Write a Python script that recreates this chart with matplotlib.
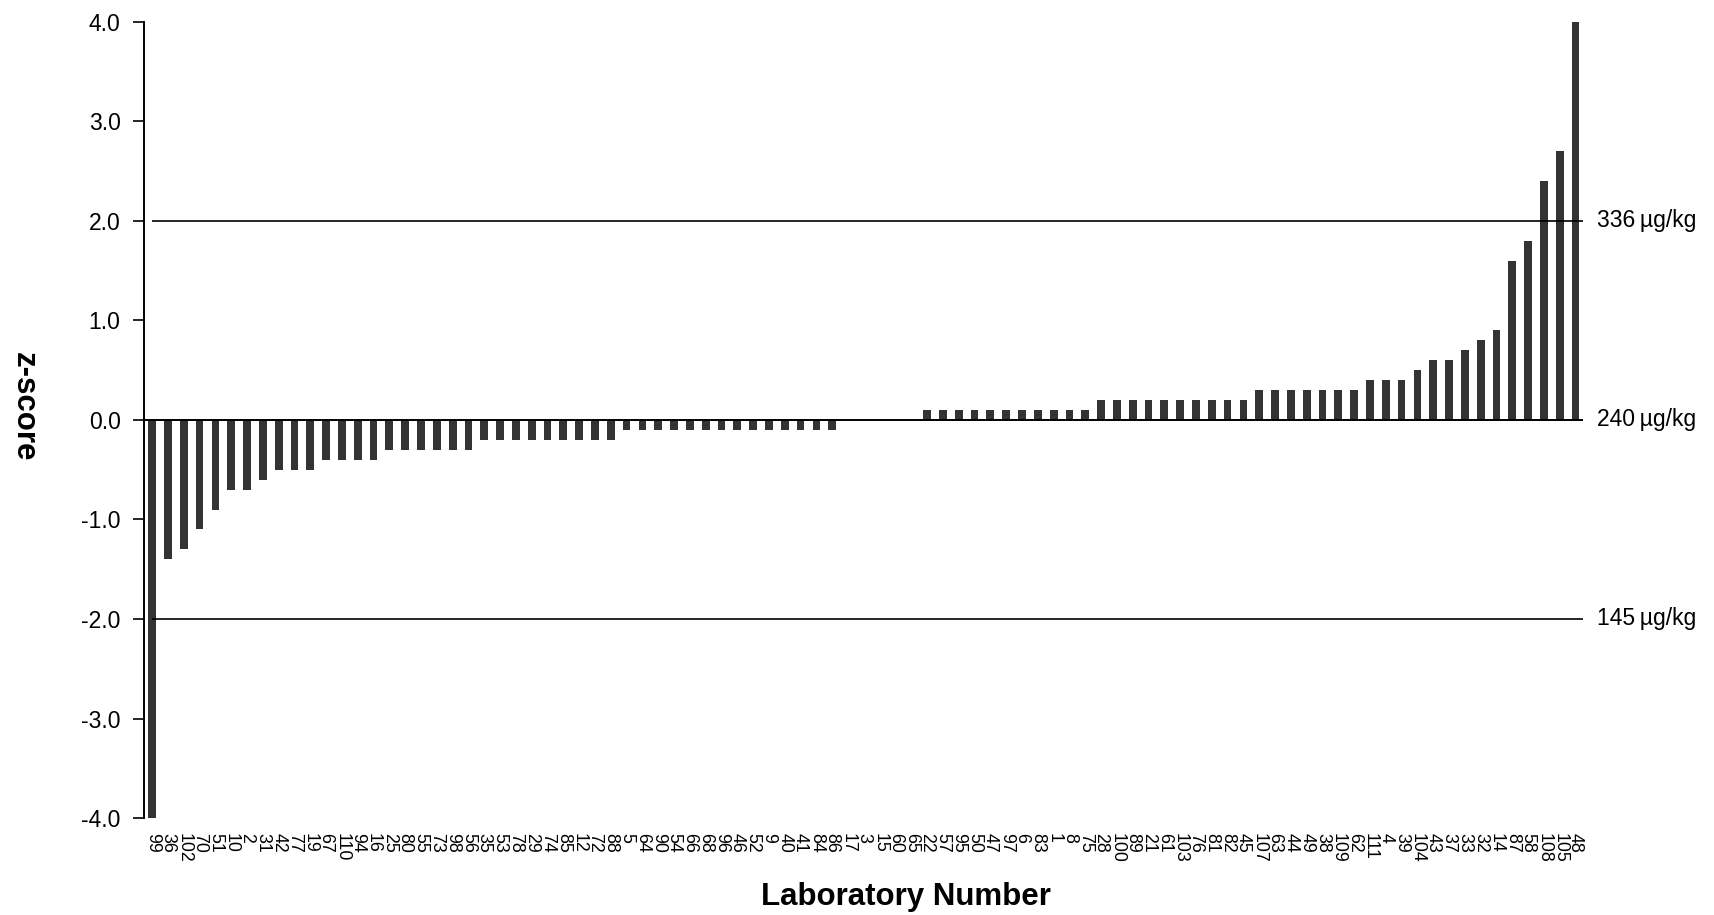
import matplotlib
matplotlib.use("Agg")
import matplotlib.pyplot as plt
import matplotlib.transforms as mtransforms

plt.rcParams['font.family'] = ['Liberation Sans', 'DejaVu Sans']
plt.rcParams['axes.unicode_minus'] = False

# laboratory numbers, sorted by z-score
labs = ["99", "36", "102", "70", "51", "10", "2", "31", "42", "77", "19", "67", "110",
        "94", "16", "25", "80", "55", "73", "98", "56", "35", "53", "78", "29", "74",
        "85", "12", "72", "88", "5", "64", "90", "54", "66", "68", "96", "46", "52",
        "9", "40", "41", "84", "86", "17", "3", "15", "60", "65", "22", "57", "95",
        "50", "47", "97", "6", "83", "1", "8", "75", "28", "100", "89", "21", "61",
        "103", "76", "81", "82", "45", "107", "63", "44", "49", "38", "109", "62",
        "111", "4", "39", "104", "43", "37", "33", "32", "14", "87", "58", "108",
        "105", "48"]

zscores = [-4.0, -1.4, -1.3, -1.1, -0.9, -0.7, -0.7, -0.6, -0.5, -0.5, -0.5, -0.4, -0.4,
           -0.4, -0.4, -0.3, -0.3, -0.3, -0.3, -0.3, -0.3, -0.2, -0.2, -0.2, -0.2, -0.2,
           -0.2, -0.2, -0.2, -0.2, -0.1, -0.1, -0.1, -0.1, -0.1, -0.1, -0.1, -0.1, -0.1,
           -0.1, -0.1, -0.1, -0.1, -0.1, 0.0, 0.0, 0.0, 0.0, 0.0, 0.1, 0.1, 0.1,
           0.1, 0.1, 0.1, 0.1, 0.1, 0.1, 0.1, 0.1, 0.2, 0.2, 0.2, 0.2, 0.2,
           0.2, 0.2, 0.2, 0.2, 0.2, 0.3, 0.3, 0.3, 0.3, 0.3, 0.3, 0.3,
           0.4, 0.4, 0.4, 0.5, 0.6, 0.6, 0.7, 0.8, 0.9, 1.6, 1.8, 2.4,
           2.7, 4.0]

# reference lines: z-score and the matching concentration
ref_z = [2.0, 0.0, -2.0]
ref_text = ["336\u2009µg/kg", "240\u2009µg/kg", "145\u2009µg/kg"]

fig = plt.figure(figsize=(17.15, 9.15), dpi=100)
ax = fig.add_axes([0.0841, 0.1060, 0.8392, 0.8700])

x = list(range(len(labs)))
ax.bar(x, zscores, width=0.49, color="#333333", zorder=2)

ax.axhline(0.0, color="black", lw=1.4, zorder=3)
ax.hlines([z for z in ref_z if z != 0.0], 0, len(labs) - 0.5, color="black", lw=1.2, zorder=3)

trans = mtransforms.blended_transform_factory(ax.transAxes, ax.transData)
for z, t in zip(ref_z, ref_text):
    ax.text(1.0094, z, t, transform=trans, ha="left", va="center", fontsize=16.5)

ax.set_xlim(-0.5, len(labs) - 0.5)
ax.set_ylim(-4.0, 4.0)
ax.set_yticks([-4, -3, -2, -1, 0, 1, 2, 3, 4])
ax.set_yticklabels([f"{v:.1f}" for v in ax.get_yticks()], fontsize=16.5)
ax.tick_params(axis="y", length=8, width=1.2, pad=9)

ax.set_xticks(x)
ax.set_xticklabels(labs, rotation=-90, fontsize=12.8, va="top", ha="center")
ax.tick_params(axis="x", length=0, pad=11)

for side in ["top", "right", "bottom"]:
    ax.spines[side].set_visible(False)
ax.spines["left"].set_linewidth(1.4)

fig.text(0.528, 0.0197, "Laboratory Number", ha="center", va="center",
         fontsize=22.5, fontweight="bold")
fig.text(0.014, 0.555, "z-score", ha="center", va="center", rotation=-90,
         fontsize=22.5, fontweight="bold")

fig.savefig("out.png", dpi=100)
